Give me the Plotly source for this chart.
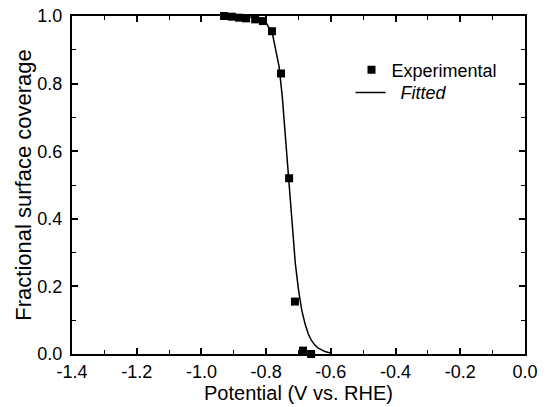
import plotly.graph_objects as go

exp_x = [-0.930, -0.906, -0.884, -0.862, -0.834, -0.810, -0.782, -0.754, -0.729, -0.711, -0.686, -0.661]
exp_y = [1.000, 0.998, 0.995, 0.993, 0.990, 0.985, 0.955, 0.830, 0.520, 0.155, 0.010, 0.000]

fit_x = [-0.93, -0.88, -0.85, -0.82, -0.80, -0.78, -0.76, -0.75, -0.74, -0.73, -0.72, -0.71, -0.70,
         -0.69, -0.68, -0.67, -0.66, -0.65, -0.64, -0.63, -0.62, -0.61, -0.60]
fit_y = [1.000, 0.999, 0.997, 0.992, 0.980, 0.945, 0.850, 0.760, 0.640, 0.510, 0.380, 0.270, 0.190,
         0.130, 0.090, 0.060, 0.040, 0.027, 0.018, 0.012, 0.008, 0.005, 0.003]

x_ticks = [-1.4, -1.2, -1.0, -0.8, -0.6, -0.4, -0.2, 0.0]
y_ticks = [0.0, 0.2, 0.4, 0.6, 0.8, 1.0]

font = "Liberation Sans, Arial, sans-serif"

fig = go.Figure()
fig.add_trace(go.Scatter(x=exp_x, y=exp_y, mode="markers", name="Experimental", legend="legend",
                         showlegend=True,
                         marker=dict(symbol="square", size=8, color="black"), cliponaxis=False))
fig.add_trace(go.Scatter(x=fit_x, y=fit_y, mode="lines", name="&nbsp;&nbsp;<i>Fitted</i>", legend="legend2",
                         showlegend=True,
                         line=dict(color="black", width=1.5), cliponaxis=False))

axis_common = dict(showline=True, linecolor="black", linewidth=2, mirror="allticks",
                   ticks="inside", ticklen=6, tickwidth=1.5, tickcolor="black",
                   showgrid=False, zeroline=False, automargin=False,
                   tickfont=dict(family=font, size=18, color="black"),
                   minor=dict(ticks="inside", ticklen=4, tickwidth=1.2, tickcolor="black", showgrid=False))

fig.update_xaxes(range=[-1.4, 0.0], tickvals=x_ticks, ticktext=[f"{v:.1f}" for v in x_ticks],
                 minor_dtick=0.1, ticklabelstandoff=0,
                 title=dict(text="Potential (V vs. RHE)", font=dict(family=font, size=20, color="black"), standoff=3),
                 **axis_common)
fig.update_yaxes(range=[0.0, 1.0], tickvals=y_ticks, ticktext=[f"{v:.1f}" for v in y_ticks],
                 minor_dtick=0.1, ticklabelstandoff=4,
                 title=dict(text="Fractional surface coverage", font=dict(family=font, size=22, color="black"), standoff=0),
                 **axis_common)

leg_common = dict(xanchor="left", yanchor="middle", bgcolor="rgba(0,0,0,0)",
                  font=dict(family=font, size=18, color="black"), borderwidth=0)
fig.update_layout(width=547, height=407, margin=dict(l=72, r=22, t=16, b=53),
                  paper_bgcolor="white", plot_bgcolor="white", showlegend=True,
                  font=dict(family=font, color="black"),
                  legend=dict(x=0.617, y=0.84, **leg_common),
                  legend2=dict(x=0.615, y=0.773, **leg_common))

fig.write_html("out.html", config={"displayModeBar": False},
               post_script="document.body.style.margin='0';")
